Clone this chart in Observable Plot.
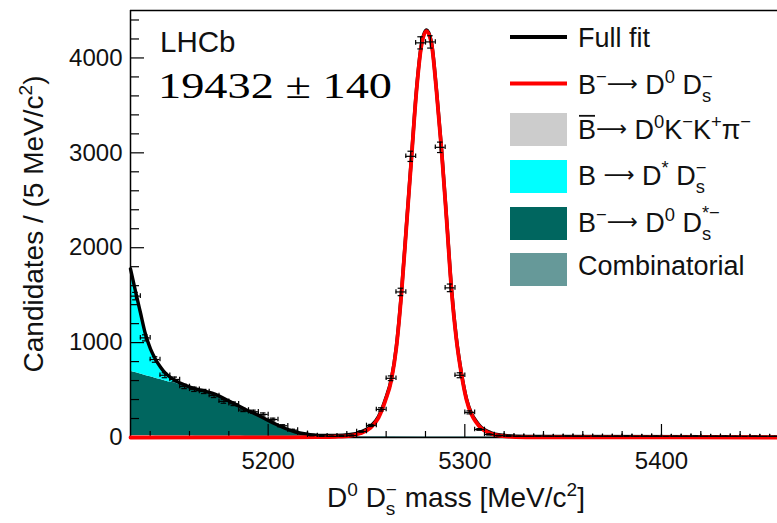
<!DOCTYPE html>
<html><head><meta charset="utf-8">
<script src="https://cdn.jsdelivr.net/npm/d3@7"></script>
<script src="https://cdn.jsdelivr.net/npm/@observablehq/plot@0.6"></script>
<style>body{margin:0;background:#fff} svg{display:block}</style>
</head><body><div id="chart"></div>
<script>
// ---------- data ----------
// Data points (5 MeV bins)
const binCenters = [5132.5, 5137.5, 5142.5, 5147.5, 5152.5, 5157.5, 5162.5, 5167.5, 5172.5, 5177.5,
  5182.5, 5187.5, 5192.5, 5197.5, 5202.5, 5207.5, 5212.5, 5217.5, 5222.5, 5227.5,
  5232.5, 5237.5, 5242.5, 5247.5, 5252.5, 5257.5, 5262.5, 5267.5, 5272.5, 5277.5,
  5282.5, 5287.5, 5292.5, 5297.5, 5302.5, 5307.5, 5312.5, 5317.5, 5322.5, 5327.5,
  5332.5, 5337.5, 5342.5, 5347.5, 5352.5, 5357.5, 5362.5, 5367.5, 5372.5, 5377.5,
  5382.5, 5387.5, 5392.5, 5397.5, 5402.5, 5407.5, 5412.5, 5417.5, 5422.5, 5427.5,
  5432.5, 5437.5, 5442.5, 5447.5, 5452.5, 5457.5];
const binCounts = [1490, 1050, 822, 656, 612, 538, 508, 485, 442, 381,
  355, 290, 272, 243, 190, 124, 78, 44, 22, 16,
  12, 15, 21, 63, 127, 296, 624, 1534, 2963, 4159,
  4169, 3058, 1577, 656, 265, 85, 32, 20, 16, 12,
  9, 14, 11, 8, 13, 10, 7, 12, 9, 11,
  14, 8, 10, 12, 7, 11, 9, 13, 8, 10,
  12, 9, 6, 11, 8, 10];
const binErrors = [39, 32, 29, 26, 25, 23, 23, 22, 21, 20,
  19, 17, 16, 16, 14, 11, 9, 7, 5, 4,
  3, 4, 5, 8, 11, 17, 25, 39, 54, 64,
  65, 55, 40, 26, 16, 9, 6, 4, 4, 3,
  3, 4, 3, 3, 4, 3, 3, 3, 3, 3,
  4, 3, 3, 3, 3, 3, 3, 4, 3, 3,
  3, 3, 2, 3, 3, 3];
const binHalfWidth = 2.5;

// Full fit curve
const fitMass = [5130.0, 5132.5, 5135.1, 5137.6, 5140.2, 5142.7, 5145.3, 5147.8, 5150.3, 5152.9,
  5158.0, 5163.0, 5168.1, 5173.2, 5178.3, 5183.4, 5188.5, 5193.5, 5198.6, 5203.7,
  5208.8, 5213.9, 5219.0, 5226.6, 5234.2, 5241.8, 5246.9, 5252.0, 5256.1, 5259.6,
  5262.7, 5265.2, 5267.8, 5270.3, 5272.9, 5275.4, 5277.9, 5280.5, 5283.0, 5285.6,
  5288.1, 5290.7, 5293.2, 5295.7, 5298.3, 5300.8, 5303.4, 5305.9, 5308.4, 5313.0,
  5318.1, 5325.7, 5338.4, 5459];
const fitVals = [1778, 1545, 1312, 1090, 931, 825, 741, 677, 635, 598,
  550, 513, 487, 455, 402, 349, 296, 249, 196, 143,
  95, 58, 37, 21, 21, 32, 58, 116, 222, 402,
  624, 963, 1534, 2233, 2963, 3661, 4138, 4296, 4169, 3661,
  3058, 2317, 1577, 1048, 677, 413, 254, 169, 106, 53,
  26, 14, 10, 7];

// Signal B- -> D0 Ds-
const sigMass = [5130, 5180, 5210, 5226.6, 5234.2, 5241.8, 5246.9, 5252.0, 5256.1, 5259.6,
  5262.7, 5265.2, 5267.8, 5270.3, 5272.9, 5275.4, 5277.9, 5280.5, 5283.0, 5285.6,
  5288.1, 5290.7, 5293.2, 5295.7, 5298.3, 5300.8, 5303.4, 5305.9, 5308.4, 5313.0,
  5318.1, 5325.7, 5338.4, 5360, 5459];
const sigVals = [0, 1, 2, 4, 8, 18, 44, 102, 208, 388,
  610, 950, 1521, 2220, 2950, 3648, 4125, 4283, 4156, 3648,
  3045, 2304, 1564, 1035, 665, 401, 242, 157, 95, 42,
  16, 5, 2, 1, 0];

// Stacked background components
const bgMass = [5130, 5132.5, 5135.1, 5137.6, 5140.2, 5142.7, 5145.3, 5147.8, 5150.3, 5152.9,
  5158.0, 5163.0, 5168.1, 5173.2, 5178.3, 5183.4, 5188.5, 5193.5, 5198.6, 5203.7,
  5208.8, 5213.9, 5219.0, 5226.6, 5234.2, 5245, 5280, 5320, 5360, 5400, 5459];
const combVals = [14,14,14,14,14,13,13,13,13,13, 13,13,12,12,12,12,12,12,11,11, 11,11,11,11,10,10,9,9,8,8,7];
const kkpiVals = [8,8,7,7,7,6,6,6,5,5, 5,4,4,3,3,3,2,2,2,1, 1,1,1,0,0,0,0,0,0,0,0];
const dsStarVals = [676,662,648,633,618,605,591,576,563,553, 516,486,460,429,381,330,278,231,180,128, 80,43,21,6,2,0,0,0,0,0,0];
const dStarVals = [1080,861,643,436,292,201,131,82,54,27, 16,10,6,4,3,2,1,0,0,0, 0,0,0,0,0,0,0,0,0,0,0];

const compNames = ["Combinatorial", "KKpi", "DsStar", "DStar"];
const compColors = ["#669999", "#cccccc", "#00665f", "#00ffff"];

const xMajor = [5200, 5300, 5400];
const xMinor = [5140, 5160, 5180, 5220, 5240, 5260, 5280, 5320, 5340, 5360, 5380, 5420, 5440];
const yMajor = [0, 1000, 2000, 3000, 4000];
const yMinor = [200, 400, 600, 800, 1200, 1400, 1600, 1800, 2200, 2400, 2600, 2800, 3200, 3400, 3600, 3800, 4200, 4400];

const experimentLabel = "LHCb";
const yieldLabel = "19432 ± 140";

// ---------- build tables ----------
const pts = binCenters.map((m, i) => ({m, n: binCounts[i], e: binErrors[i]}));
const fitRows = fitMass.map((m, i) => ({m, v: fitVals[i]}));
const sigRows = sigMass.map((m, i) => ({m, v: sigVals[i]}));
const compVals = [combVals, kkpiVals, dsStarVals, dStarVals];
const bgRows = [];
compNames.forEach((c, j) => compVals[j].forEach((v, i) => bgRows.push({mass: bgMass[i], value: v, comp: c})));

const W = 777, H = 523, mL = 130, mR = 0, mT = 10, mB = 86;
const fw = W - mL - mR, fh = H - mT - mB;
const SANS = "'Liberation Sans', Arial, Helvetica, sans-serif";

const plot = Plot.plot({
  width: W, height: H, marginLeft: mL, marginRight: mR, marginTop: mT, marginBottom: mB,
  style: {fontFamily: SANS, fontSize: "24px", color: "#111", background: "#fff"},
  x: {domain: [5130, 5459]},
  y: {domain: [0, 4500]},
  color: {domain: compNames, range: compColors},
  marks: [
    Plot.areaY(bgRows, {x: "mass", y: "value", z: "comp", fill: "comp", curve: "monotone-x"}),
    Plot.ruleY([4500], {stroke: "#000", strokeWidth: 1.5}),
    Plot.ruleX([5130], {stroke: "#000", strokeWidth: 1.5}),
    Plot.ruleY([0], {stroke: "#000", strokeWidth: 1.5}),
    Plot.ruleX(xMinor, {stroke: "#000", strokeWidth: 1.2, insetTop: fh - 6}),
    Plot.ruleX(xMajor, {stroke: "#000", strokeWidth: 1.2, insetTop: fh - 13}),
    Plot.ruleY(yMinor, {stroke: "#000", strokeWidth: 1.2, insetRight: fw - 9}),
    Plot.ruleY(yMajor, {stroke: "#000", strokeWidth: 1.2, insetRight: fw - 14}),
    Plot.axisX({ticks: xMajor, tickSize: 0, tickPadding: 14, tickFormat: d => String(d), label: null}),
    Plot.axisY({ticks: yMajor, tickSize: 0, tickPadding: 8, tickFormat: d => String(d), label: null}),
    Plot.line(fitRows, {x: "m", y: "v", stroke: "#000", strokeWidth: 3.4, curve: "monotone-x"}),
    Plot.line(sigRows, {x: "m", y: "v", stroke: "#ff0000", strokeWidth: 3.8, curve: "monotone-x"}),
    // error bars
    Plot.ruleY(pts, {y: "n", x1: d => d.m - binHalfWidth, x2: d => d.m + binHalfWidth, stroke: "#000", strokeWidth: 1.2, clip: true}),
    Plot.ruleX(pts, {x: "m", y1: d => d.n - d.e, y2: d => d.n + d.e, stroke: "#000", strokeWidth: 1.2, clip: true}),
    Plot.ruleY(pts, {y: d => d.n + d.e, x1: d => d.m - 1.4, x2: d => d.m + 1.4, stroke: "#000", strokeWidth: 1.2, clip: true}),
    Plot.ruleY(pts, {y: d => d.n - d.e, x1: d => d.m - 1.4, x2: d => d.m + 1.4, stroke: "#000", strokeWidth: 1.2, clip: true}),
    Plot.ruleX(pts, {x: d => d.m - binHalfWidth, y1: d => d.n - 24, y2: d => d.n + 24, stroke: "#000", strokeWidth: 1.2, clip: true}),
    Plot.ruleX(pts, {x: d => d.m + binHalfWidth, y1: d => d.n - 24, y2: d => d.n + 24, stroke: "#000", strokeWidth: 1.2, clip: true})
  ]
});
document.getElementById("chart").append(plot);

// ---------- annotations ----------
const svg = d3.select(plot);
function rich(x, y, parts, size, opts = {}) {
  const g = svg.append("g").attr("font-family", opts.family || SANS).attr("fill", "#111")
    .attr("text-anchor", "start");
  let cx = 0, pending = 0;
  parts.forEach(p => {
    const small = p.sup || p.sub;
    const fs = small ? size * 0.68 : p.arrow ? size * 0.8 : size;
    const dy = p.sup ? -size * (p.hi || 0.40) : p.sub ? size * 0.30 : p.arrow ? -size * 0.1 : 0;
    const t = g.append("text").attr("text-anchor", "start").attr("x", cx + (p.dx || 0)).attr("y", dy)
      .attr("font-size", fs).style("white-space", "pre").text(p.t);
    if (p.arrow) t.attr("font-family", "'DejaVu Sans', sans-serif");
    const w = t.node().getComputedTextLength() + (p.dx || 0);
    if (p.over) g.append("line").attr("x1", cx + 1).attr("x2", cx + w - 1)
      .attr("y1", -size * 0.84).attr("y2", -size * 0.84).attr("stroke", "#111").attr("stroke-width", 1.8);
    if (p.stay) pending = Math.max(pending, w);
    else { cx += Math.max(w, pending); pending = 0; }
  });
  const off = opts.anchor === "middle" ? -cx / 2 : 0;
  g.attr("transform", `translate(${x},${y}) rotate(${opts.rotate || 0}) translate(${off},0)`);
  return g;
}

rich(160, 52, [{t: experimentLabel}], 29.5);
svg.append("text").attr("text-anchor", "start").attr("x", 158).attr("y", 98).attr("font-family", "'Liberation Serif', 'Times New Roman', serif")
  .attr("font-size", 36).attr("fill", "#000").attr("textLength", 234).attr("lengthAdjust", "spacingAndGlyphs")
  .text(yieldLabel);

// axis titles
rich(456, 507, [{t: "D"}, {t: "0", sup: true}, {t: " D"}, {t: "s", sub: true, stay: true}, {t: "−", sup: true}, {t: " mass [MeV/c"}, {t: "2", sup: true}, {t: "]"}], 28, {anchor: "middle"});
rich(43, 224, [{t: "Candidates / (5 MeV/c"}, {t: "2", sup: true}, {t: ")"}], 28, {anchor: "middle", rotate: -90});

// legend
const lx = 510, lw = 57, tx = 578, ls = 27;
const ARROW = "⟶";
svg.append("line").attr("x1", lx).attr("x2", lx + lw).attr("y1", 37).attr("y2", 37).attr("stroke", "#000").attr("stroke-width", 4);
svg.append("line").attr("x1", lx).attr("x2", lx + lw).attr("y1", 83.5).attr("y2", 83.5).attr("stroke", "#ff0000").attr("stroke-width", 4);
[[113, compColors[1]], [160, compColors[3]], [207, compColors[2]], [253, compColors[0]]].forEach(([y, c]) =>
  svg.append("rect").attr("x", lx).attr("y", y).attr("width", lw).attr("height", 33).attr("fill", c));
rich(tx, 47, [{t: "Full fit"}], ls);
rich(tx, 93.5, [{t: "B"}, {t: "−", sup: true}, {t: ARROW, arrow: true}, {t: " D"}, {t: "0", sup: true}, {t: " D"}, {t: "s", sub: true, stay: true}, {t: "−", sup: true}], ls);
rich(tx, 138.5, [{t: "B", over: true}, {t: ARROW, arrow: true}, {t: " D"}, {t: "0", sup: true}, {t: "K"}, {t: "−", sup: true}, {t: "K"}, {t: "+", sup: true}, {t: "π"}, {t: "−", sup: true}], ls);
rich(tx, 185, [{t: "B "}, {t: ARROW, arrow: true}, {t: " D"}, {t: "*", sup: true}, {t: " D"}, {t: "s", sub: true, stay: true}, {t: "−", sup: true}], ls);
rich(tx, 232, [{t: "B"}, {t: "−", sup: true}, {t: ARROW, arrow: true}, {t: " D"}, {t: "0", sup: true}, {t: " D"}, {t: "s", sub: true, stay: true}, {t: "*−", sup: true, hi: 0.5}], ls);
rich(tx, 275, [{t: "Combinatorial"}], ls);
</script></body></html>
